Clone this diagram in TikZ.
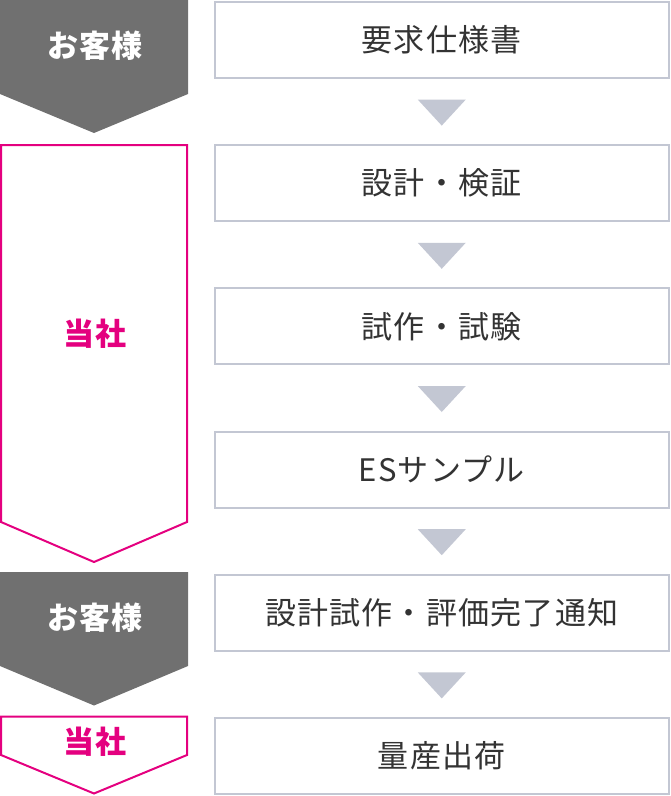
\documentclass[tikz,border=0pt]{standalone}
\usepackage{fontspec}
\setmainfont{Noto Sans CJK JP}[LetterSpace=4]
\usetikzlibrary{calc}
\definecolor{custgray}{HTML}{707070}
\definecolor{ourpink}{HTML}{E4007F}
\definecolor{framegray}{HTML}{C3C7D3}
\definecolor{textgray}{HTML}{333333}
\begin{document}
\begin{tikzpicture}[x=1pt, y=-1pt,
		box/.style={draw=framegray, line width=2pt, fill=white,
			minimum width=454.5pt, minimum height=76pt, inner sep=0pt,
			text=textgray, font=\fontsize{31}{36}\selectfont},
		tri/.style={fill=framegray},
		who/.style={font=\bfseries\fontsize{31}{36}\selectfont}]
		\useasboundingbox (0,0) rectangle (671,796);
		%% Who
		\fill [custgray] (0,0) -- (188,0) -- (188,94) -- (94,133) -- (0,94) -- cycle;
		\draw [ourpink, line width=2pt, line join=miter] (1,145) -- (187,145) -- (187,522) -- (94,562) -- (1,522) -- cycle;
		\fill [custgray] (0,572) -- (188,572) -- (188,666) -- (94,705.5) -- (0,666) -- cycle;
		\draw [ourpink, line width=2pt, line join=miter] (1,716.7) -- (187,716.7) -- (187,755) -- (94,793.5) -- (1,755) -- cycle;
		\node [who, text=white] at (95,46) (C1) {お客様};
		\node [who, text=ourpink] at (95,334) (U1) {当社};
		\node [who, text=white] at (95,618) (C2) {お客様};
		\node [who, text=ourpink] at (95,742) (U2) {当社};
		%% Steps
		\node [box] at (441.75,40) (Req) {要求仕様書};
		\node [box] at (441.75,183.2) (Des) {設計・検証};
		\node [box] at (441.75,326.4) (Pro) {試作・試験};
		\node [box] at (441.75,469.6) (ES) {ESサンプル};
		\node [box] at (441.75,612.8) (Done) {設計試作・評価完了通知};
		\node [box] at (441.75,756) (Mass) {量産出荷};
		%% Flows
		\foreach \a/\b in {Req/Des, Des/Pro, Pro/ES, ES/Done, Done/Mass}
			\fill [tri] ($(\a.south)!0.5!(\b.north)$) ++(-24,-12) -- ++(48,0) -- ++(-24,26) -- cycle;
	\end{tikzpicture}
\end{document}
